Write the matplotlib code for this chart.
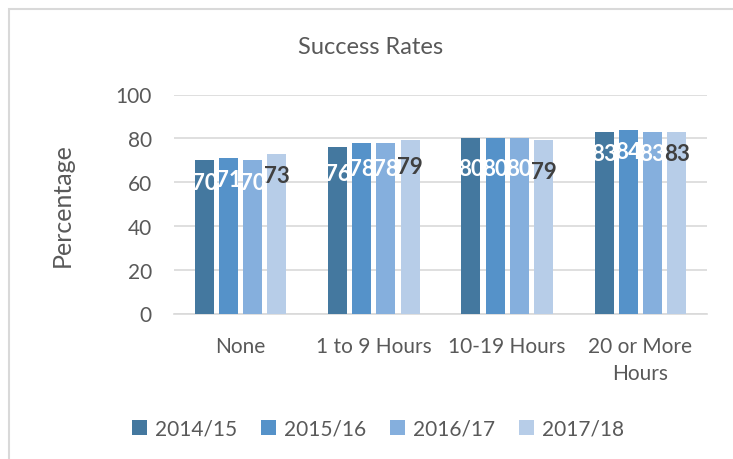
import numpy as np
import matplotlib.pyplot as plt
from matplotlib.patches import Rectangle

# chart data
categories = ['None', '1 to 9 Hours', '10-19 Hours', '20 or More\nHours']
years = ['2014/15', '2015/16', '2016/17', '2017/18']
rate_1415 = [70, 76, 80, 83]
rate_1516 = [71, 78, 80, 84]
rate_1617 = [70, 78, 80, 83]
rate_1718 = [73, 79, 79, 83]

colors = ['#44789f', '#5592c9', '#85afdd', '#b7cde8']
label_colors = ['white', 'white', 'white', '#404040']
# how far below the bar top each group's labels sit
label_drop = [10, 12, 14, 10]

plt.rcParams['font.family'] = ['Lato', 'DejaVu Sans']
text_col = '#595959'
grid_col = '#d9d9d9'

fig = plt.figure(figsize=(7.33, 4.6), dpi=100)
ax = fig.add_axes([174/733, 1 - 314.5/460, (707 - 174)/733, (314.5 - 95.5)/460])

x = np.arange(len(categories))
step = 0.1816
width = 0.1426
series = [rate_1415, rate_1516, rate_1617, rate_1718]
for i, vals in enumerate(series):
    pos = x + (i - 1.5) * step
    ax.bar(pos, vals, width, color=colors[i], label=years[i], zorder=3)
    for j, v in enumerate(vals):
        ax.text(pos[j], v - label_drop[j], str(v), ha='center', va='center',
                fontsize=16, fontweight='bold', color=label_colors[i], zorder=4)

ax.set_xlim(-0.5, 3.5)
ax.set_ylim(0, 100)
ax.set_yticks(range(0, 101, 20))
ax.set_xticks(x)
ax.set_xticklabels(categories, linespacing=1.45)
ax.grid(axis='y', color=grid_col, linewidth=1.2, zorder=0)
for s in ['top', 'right', 'left']:
    ax.spines[s].set_visible(False)
ax.spines['bottom'].set_color(grid_col)
ax.spines['bottom'].set_linewidth(1.2)
ax.tick_params(axis='both', length=0, labelsize=15, colors=text_col)
ax.tick_params(axis='y', pad=16)
ax.tick_params(axis='x', pad=16)

ax.set_ylabel('Percentage', fontsize=18, color=text_col, labelpad=30)
fig.text(371/733, 1 - 47/460, 'Success Rates', ha='center', va='center',
         fontsize=17, color=text_col)

fig.legend(loc='center', bbox_to_anchor=(378/733, 1 - 430/460), ncol=4,
           frameon=False, fontsize=15, labelcolor=text_col,
           handlelength=0.7, handleheight=0.7, handletextpad=0.4,
           columnspacing=1.15)

# chart border (right and bottom edges run off the image)
fig.patches.append(Rectangle((8.5/733, -0.1), 1.0, 1 - 9.5/460 + 0.1,
                             transform=fig.transFigure, fill=False,
                             edgecolor=grid_col, linewidth=1.5))

fig.savefig('out.png', dpi=100)
